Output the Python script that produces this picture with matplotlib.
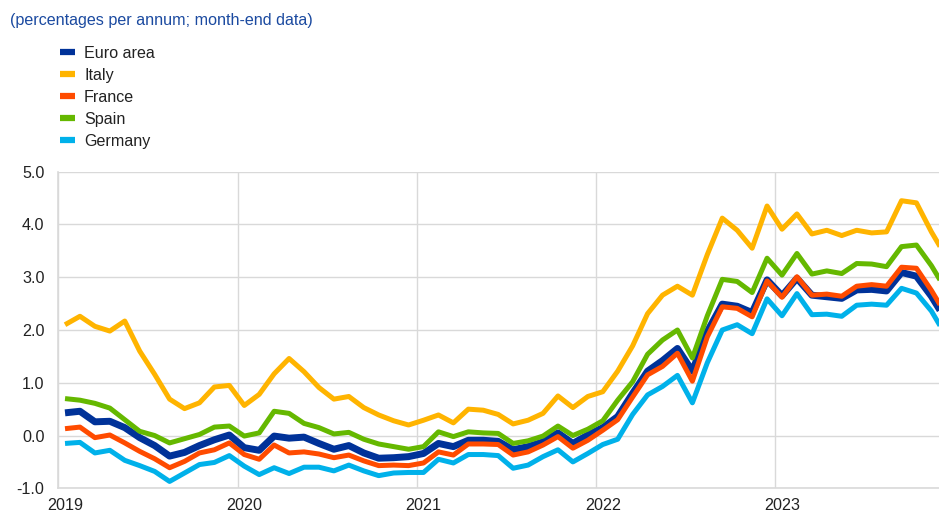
import numpy as np
import matplotlib
matplotlib.use("Agg")
import matplotlib.pyplot as plt
from matplotlib.lines import Line2D

# ---------------- data (5-year yields, month-end, Jan 2019 - Dec 2023) ----------------
series_names = ["Euro area", "Italy", "France", "Spain", "Germany"]
year_labels = ["2019", "2020", "2021", "2022", "2023"]

euro_area = [0.43, 0.46, 0.26, 0.27, 0.15, -0.04, -0.19, -0.39, -0.32, -0.19, -0.08, 0.01, -0.23, -0.28,
             -0.01, -0.05, -0.03, -0.15, -0.26, -0.19, -0.33, -0.43, -0.42, -0.40,
             -0.34, -0.15, -0.21, -0.09, -0.09, -0.11, -0.27, -0.21, -0.12, 0.05, -0.15, 0.01,
             0.15, 0.36, 0.80, 1.22, 1.42, 1.65, 1.22, 1.97,
             2.49, 2.45, 2.33, 2.95, 2.65, 2.98, 2.66, 2.63, 2.60, 2.76, 2.77, 2.74, 3.09, 3.02, 2.64, 2.18]
italy = [2.10, 2.26, 2.07, 1.98, 2.17, 1.60, 1.16, 0.69, 0.51, 0.62, 0.92, 0.95, 0.57, 0.78,
         1.17, 1.46, 1.21, 0.91, 0.69, 0.74, 0.53, 0.39, 0.28, 0.20,
         0.29, 0.39, 0.24, 0.50, 0.48, 0.40, 0.22, 0.29, 0.42, 0.75, 0.53, 0.74,
         0.83, 1.22, 1.70, 2.31, 2.66, 2.83, 2.66, 3.43,
         4.12, 3.89, 3.55, 4.35, 3.91, 4.20, 3.82, 3.89, 3.79, 3.89, 3.84, 3.86, 4.45, 4.41, 3.86, 3.38]
france = [0.13, 0.16, -0.04, 0.01, -0.14, -0.30, -0.44, -0.61, -0.49, -0.33, -0.27, -0.14, -0.36, -0.45,
          -0.18, -0.33, -0.31, -0.35, -0.42, -0.37, -0.48, -0.57, -0.56, -0.57,
          -0.52, -0.31, -0.37, -0.16, -0.16, -0.17, -0.37, -0.31, -0.18, -0.02, -0.24, -0.09,
          0.10, 0.30, 0.73, 1.15, 1.31, 1.56, 1.03, 1.87,
          2.44, 2.41, 2.25, 2.93, 2.62, 3.01, 2.66, 2.68, 2.64, 2.83, 2.86, 2.83, 3.19, 3.17, 2.75, 2.28]
spain = [0.70, 0.67, 0.61, 0.52, 0.30, 0.08, 0.00, -0.14, -0.06, 0.02, 0.16, 0.18, -0.01, 0.05,
         0.46, 0.42, 0.23, 0.15, 0.03, 0.06, -0.07, -0.16, -0.21, -0.26,
         -0.21, 0.07, -0.02, 0.07, 0.05, 0.04, -0.15, -0.10, -0.01, 0.18, 0.00, 0.12,
         0.28, 0.67, 1.02, 1.54, 1.81, 2.00, 1.47, 2.27,
         2.96, 2.92, 2.71, 3.36, 3.04, 3.45, 3.06, 3.12, 3.07, 3.26, 3.25, 3.20, 3.58, 3.61, 3.22, 2.75]
germany = [-0.15, -0.13, -0.33, -0.28, -0.47, -0.57, -0.68, -0.87, -0.71, -0.55, -0.51, -0.38, -0.58, -0.74,
           -0.61, -0.72, -0.60, -0.60, -0.67, -0.56, -0.67, -0.76, -0.71, -0.70,
           -0.70, -0.45, -0.52, -0.36, -0.36, -0.38, -0.62, -0.56, -0.40, -0.27, -0.50, -0.34,
           -0.17, -0.07, 0.40, 0.77, 0.93, 1.14, 0.62, 1.38,
           2.00, 2.10, 1.93, 2.59, 2.27, 2.69, 2.29, 2.30, 2.26, 2.47, 2.49, 2.47, 2.79, 2.70, 2.36, 1.88]

# ---------------- style ----------------
colors = ["#003299", "#FFB400", "#FF4B00", "#65B800", "#00B1EA"]
widths = [5.0, 3.6, 3.6, 3.6, 3.6]
grid_col = "#d9d9d9"
text_col = "#222222"
title_col = "#1b4aa0"
FONT = ["Liberation Sans", "DejaVu Sans"]
FS = 11.6

plt.rcParams["font.family"] = FONT
plt.rcParams["font.size"] = FS

fig = plt.figure(figsize=(9.39, 5.13), dpi=100)
ax = fig.add_axes([58.3 / 939, (513 - 488.3) / 513, 1 - 58.3 / 939, (488.3 - 171.7) / 513])

all_series = [euro_area, italy, france, spain, germany]
x = np.arange(len(euro_area)) + 0.45
for name, vals, c, w in zip(series_names, all_series, colors, widths):
    ax.plot(x, vals, color=c, lw=w, solid_joinstyle="round", solid_capstyle="butt", label=name)

ax.set_xlim(0, 58.96)
ax.set_ylim(-1.0, 5.0)

# gridlines
ax.set_yticks(np.arange(-1.0, 5.01, 1.0))
ax.set_yticklabels([f"{v:.1f}" for v in np.arange(-1.0, 5.01, 1.0)])
ax.set_xticks([12 * k for k in range(len(year_labels))])
ax.set_xticklabels([])
ax.set_xticks([12 * k + 0.45 for k in range(len(year_labels))], minor=True)
ax.set_xticklabels(year_labels, minor=True)
ax.grid(True, which="major", color=grid_col, lw=1.0)
ax.set_axisbelow(True)
ax.tick_params(axis="both", which="both", length=0, colors=text_col, labelsize=FS)
ax.tick_params(axis="y", pad=10)
ax.tick_params(axis="x", which="minor", pad=7)
for s in ["top", "right"]:
    ax.spines[s].set_visible(False)
for s in ["left", "bottom"]:
    ax.spines[s].set_color(grid_col)
    ax.spines[s].set_linewidth(1.2)

# title
fig.text(10 / 939, 1 - 20 / 513, "(percentages per annum; month-end data)", color=title_col,
         fontsize=FS, ha="left", va="center")

# legend
handles = [Line2D([0], [0], color=c, lw=4.5, solid_capstyle="butt") for c in colors]
leg = fig.legend(handles, series_names, loc="upper left", bbox_to_anchor=(55 / 939, 1 - 41 / 513),
                 frameon=False, fontsize=FS, handlelength=0.95, handletextpad=0.55,
                 labelspacing=0.43, borderaxespad=0, borderpad=0.3)
for t in leg.get_texts():
    t.set_color(text_col)

fig.savefig("out.png", dpi=100)
